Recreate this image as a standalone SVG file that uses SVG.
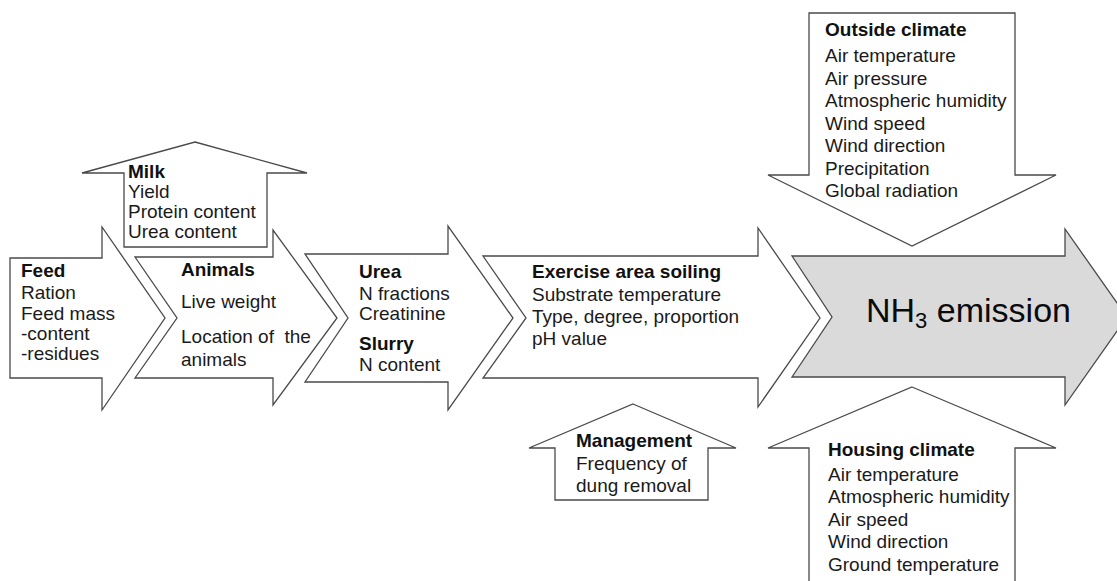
<svg xmlns="http://www.w3.org/2000/svg" width="1117" height="581" viewBox="0 0 1117 581">
<style>
.shape{fill:#ffffff;stroke:#4a4a4a;stroke-width:1.3;stroke-linejoin:miter}
.main{fill:#dadada}
text{font-family:"Liberation Sans",Arial,sans-serif;font-size:19px;fill:#1a1a1a}
.b{font-weight:bold;fill:#111}
.big{font-size:34px;fill:#0a0a0a}
</style>
<rect width="1117" height="581" fill="#ffffff"/>
<g id="connectors"></g>
<g id="feed">
<path class="shape" d="M10,258 H102 V227 L165,318 L102,410 V378 H10 Z"/>
<text x="21" y="277" class="b">Feed</text>
<text x="21" y="299">Ration</text>
<text x="21" y="320">Feed mass</text>
<text x="21" y="340">-content</text>
<text x="21" y="360">-residues</text>
</g>
<g id="milk">
<path class="shape" d="M195,142 L307,173 H267 V247 H124 V173 H82 Z"/>
<text x="128" y="178" class="b">Milk</text>
<text x="128" y="198">Yield</text>
<text x="128" y="218">Protein content</text>
<text x="128" y="238">Urea content</text>
</g>
<g id="animals">
<path class="shape" d="M135,257 H273 V230 L337,318 L273,405 V378 H135 L177,318 Z"/>
<text x="181" y="276" class="b">Animals</text>
<text x="181" y="308">Live weight</text>
<text x="181" y="343">Location of&#160; the</text>
<text x="181" y="366">animals</text>
</g>
<g id="urea">
<path class="shape" d="M305,254 H448 V226 L513,318 L448,410 V382 H305 L348,318 Z"/>
<text x="359" y="278" class="b">Urea</text>
<text x="359" y="300">N fractions</text>
<text x="359" y="320">Creatinine</text>
<text x="359" y="350" class="b">Slurry</text>
<text x="359" y="371">N content</text>
</g>
<g id="exercise">
<path class="shape" d="M483,256 H758 V228 L820,318 L758,407 V378 H483 L526,318 Z"/>
<text x="532" y="278" class="b">Exercise area soiling</text>
<text x="532" y="301">Substrate temperature</text>
<text x="532" y="323">Type, degree, proportion</text>
<text x="532" y="345">pH value</text>
</g>
<g id="management">
<path class="shape" d="M633,404 L736,448 H708 V500 H555 V448 H529 Z"/>
<text x="576" y="447" class="b">Management</text>
<text x="576" y="470">Frequency of</text>
<text x="576" y="492">dung removal</text>
</g>
<g id="nh3">
<path class="shape main" d="M792,256 H1065 V229 L1127,317 L1065,405 V377 H792 L832,317 Z"/>
<text x="866" y="322" class="big">NH<tspan font-size="22" dy="6">3</tspan><tspan dy="-6"> emission</tspan></text>
</g>
<g id="outside-climate">
<path class="shape" d="M809,13 H1015 V175 H1056 L912,246 L768,175 H809 Z"/>
<text x="825" y="36" class="b">Outside climate</text>
<text x="825" y="62">Air temperature</text>
<text x="825" y="85">Air pressure</text>
<text x="825" y="107">Atmospheric humidity</text>
<text x="825" y="130">Wind speed</text>
<text x="825" y="152">Wind direction</text>
<text x="825" y="175">Precipitation</text>
<text x="825" y="197">Global radiation</text>
</g>
<g id="housing-climate">
<path class="shape" d="M912,387 L1056,448 H1015 V590 H809 V448 H768 Z"/>
<text x="828" y="456" class="b">Housing climate</text>
<text x="828" y="481">Air temperature</text>
<text x="828" y="503">Atmospheric humidity</text>
<text x="828" y="526">Air speed</text>
<text x="828" y="548">Wind direction</text>
<text x="828" y="571">Ground temperature</text>
</g>
</svg>
